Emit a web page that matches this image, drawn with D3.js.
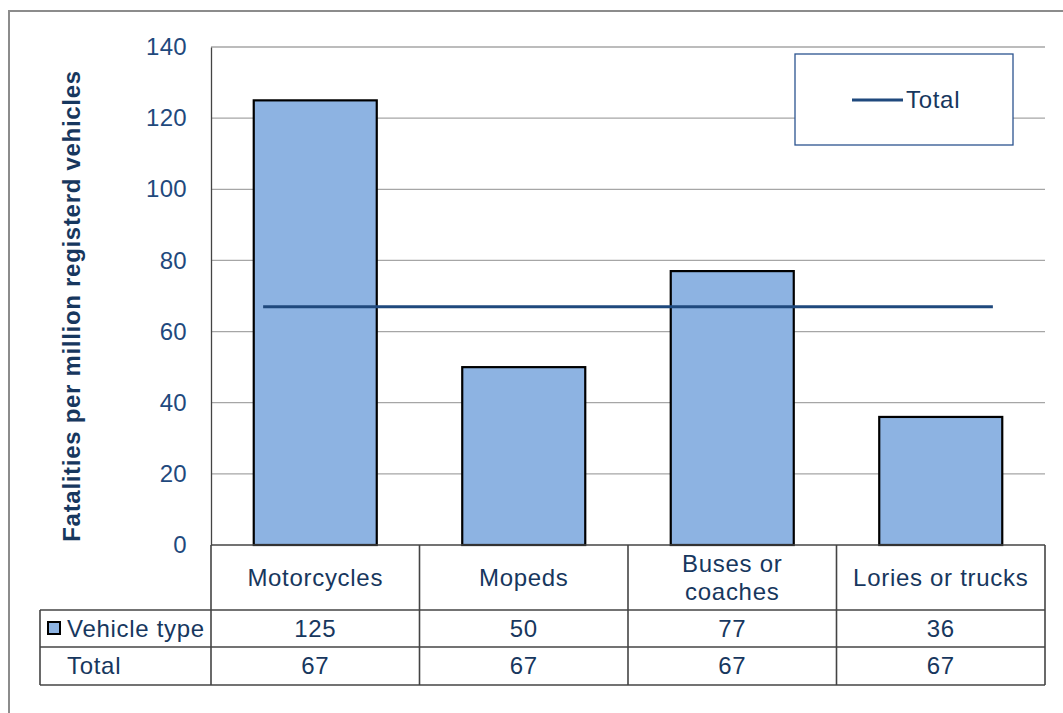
<!DOCTYPE html>
<html>
<head>
<meta charset="utf-8">
<script src="https://cdn.jsdelivr.net/npm/d3@7"></script>
<style>
body { margin: 0; background: #fff; }
text { font-family: "Liberation Sans", Arial, sans-serif; letter-spacing: 0.7px; }
</style>
</head>
<body>
<svg id="chart" width="1063" height="713"></svg>
<script>
// fatalities per million registered vehicles, by vehicle type
var categories = ['Motorcycles', 'Mopeds', 'Buses or coaches', 'Lories or trucks'];
var catLines = [['Motorcycles'], ['Mopeds'], ['Buses or', 'coaches'], ['Lories or trucks']];
var vehicleType = [125, 50, 77, 36];
var total = [67, 67, 67, 67];
var yTicks = [0, 20, 40, 60, 80, 100, 120, 140];

var plot = { left: 211, right: 1045, top: 47, bottom: 545 };
var barColor = '#8DB3E2';
var lineColor = '#1F497D';
var textColor = '#17375E';

var svg = d3.select('#chart');

// outer chart border
svg.append('rect')
    .attr('x', 9).attr('y', 11)
    .attr('width', 1070).attr('height', 720)
    .attr('fill', 'none')
    .attr('stroke', '#8c8c8c')
    .attr('stroke-width', 2);

var x = d3.scaleBand()
    .domain(categories)
    .range([plot.left, plot.right])
    .padding(0);

var y = d3.scaleLinear()
    .domain([0, 140])
    .range([plot.bottom, plot.top]);

// gridlines
svg.append('g').selectAll('line')
    .data(yTicks.slice(1))
    .enter().append('line')
    .attr('x1', plot.left).attr('x2', plot.right)
    .attr('y1', function(d) { return y(d) })
    .attr('y2', function(d) { return y(d) })
    .attr('stroke', '#a6a6a6')
    .attr('stroke-width', 1.3);

// y axis
var yAxis = svg.append('g')
    .attr('transform', 'translate(' + plot.left + ',0)')
    .call(d3.axisLeft(y).tickValues(yTicks).tickSize(0).tickPadding(24));
yAxis.select('.domain').attr('stroke', '#444').attr('stroke-width', 1.3);
yAxis.selectAll('text')
    .attr('fill', lineColor)
    .style('font-size', '24px')
    .style('letter-spacing', '0.3px')
    .style('font-family', '"Liberation Sans", Arial, sans-serif');

// y title
svg.append('text')
    .attr('transform', 'translate(80,' + ((plot.top + plot.bottom) / 2 + 10) + ') rotate(-90)')
    .attr('text-anchor', 'middle')
    .attr('fill', textColor)
    .style('font-size', '24px')
    .style('font-weight', 'bold')
    .text('Fatalities per million registerd vehicles');

// bars
var barW = x.bandwidth() * 0.59;
svg.append('g').selectAll('rect')
    .data(vehicleType)
    .enter().append('rect')
    .attr('x', function(d, i) { return x(categories[i]) + (x.bandwidth() - barW) / 2 })
    .attr('y', function(d) { return y(d) })
    .attr('width', barW)
    .attr('height', function(d) { return y(0) - y(d) })
    .attr('fill', barColor)
    .attr('stroke', '#000')
    .attr('stroke-width', 2.2);

// total line
var lineData = total.map(function(d, i) {
    var c = x(categories[i]) + x.bandwidth() / 2;
    if (i == 0) c -= x.bandwidth() / 4;
    if (i == total.length - 1) c += x.bandwidth() / 4;
    return [c, y(d)];
});
svg.append('path')
    .attr('d', d3.line()(lineData))
    .attr('fill', 'none')
    .attr('stroke', lineColor)
    .attr('stroke-width', 3);

// legend
svg.append('rect')
    .attr('x', 795).attr('y', 54)
    .attr('width', 218).attr('height', 91)
    .attr('fill', '#fff')
    .attr('stroke', '#2c5490')
    .attr('stroke-width', 1.3);
svg.append('line')
    .attr('x1', 852).attr('x2', 903)
    .attr('y1', 100).attr('y2', 100)
    .attr('stroke', lineColor)
    .attr('stroke-width', 3);
svg.append('text')
    .attr('x', 906).attr('y', 108)
    .attr('fill', textColor)
    .style('font-size', '24px')
    .text('Total');

// data table
var rowTop = [plot.bottom, 610, 647, 685];
var tableLeft = 40;
var table = svg.append('g').attr('stroke', '#444').attr('stroke-width', 1.6);

// horizontal lines
table.append('line').attr('x1', plot.left).attr('x2', plot.right).attr('y1', rowTop[0]).attr('y2', rowTop[0]);
[1, 2, 3].forEach(function(r) {
    table.append('line').attr('x1', tableLeft).attr('x2', plot.right)
        .attr('y1', rowTop[r]).attr('y2', rowTop[r]);
});
// vertical lines
table.append('line').attr('x1', tableLeft).attr('x2', tableLeft).attr('y1', rowTop[1]).attr('y2', rowTop[3]);
categories.forEach(function(c) {
    table.append('line').attr('x1', x(c)).attr('x2', x(c)).attr('y1', rowTop[0]).attr('y2', rowTop[3]);
});
table.append('line').attr('x1', plot.right).attr('x2', plot.right).attr('y1', rowTop[0]).attr('y2', rowTop[3]);

// category labels
catLines.forEach(function(lines, i) {
    var cx = x(categories[i]) + x.bandwidth() / 2;
    var mid = (rowTop[0] + rowTop[1]) / 2;
    lines.forEach(function(t, j) {
        svg.append('text')
            .attr('x', cx)
            .attr('y', mid + 8 + (j - (lines.length - 1) / 2) * 28)
            .attr('text-anchor', 'middle')
            .attr('fill', textColor)
            .style('font-size', '24px')
            .text(t);
    });
});

// row values
var rows = [['Vehicle type', vehicleType], ['Total', total]];
rows.forEach(function(row, r) {
    var mid = (rowTop[r + 1] + rowTop[r + 2]) / 2;
    svg.append('text')
        .attr('x', 67).attr('y', mid + 8)
        .attr('fill', textColor)
        .style('font-size', '24px')
        .text(row[0]);
    row[1].forEach(function(v, i) {
        svg.append('text')
            .attr('x', x(categories[i]) + x.bandwidth() / 2)
            .attr('y', mid + 8)
            .attr('text-anchor', 'middle')
            .attr('fill', textColor)
            .style('font-size', '24px')
            .text(v);
    });
});

// legend key in the table
svg.append('rect')
    .attr('x', 48).attr('y', 622)
    .attr('width', 12).attr('height', 12)
    .attr('fill', barColor)
    .attr('stroke', '#000')
    .attr('stroke-width', 2);
</script>
</body>
</html>
